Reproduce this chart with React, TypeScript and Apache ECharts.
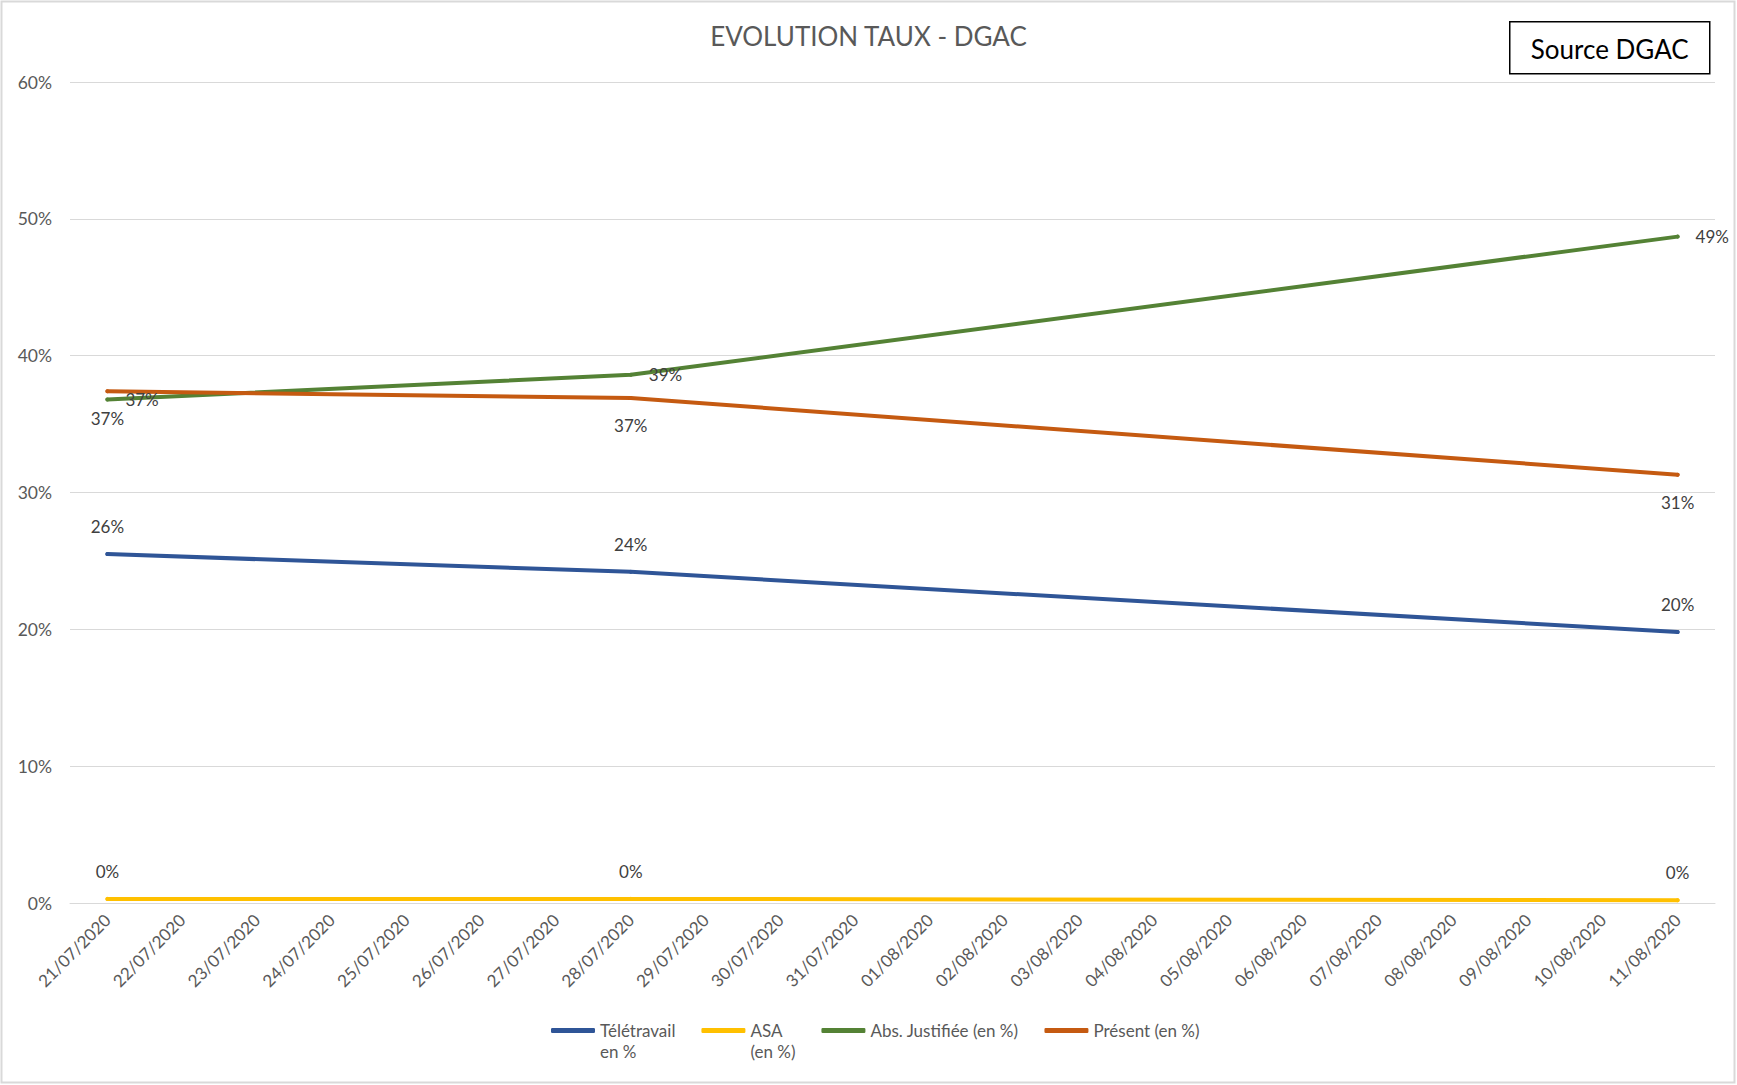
import React, { useEffect, useRef } from "react";
import * as echarts from "echarts";

const categories = [
  "21/07/2020", "22/07/2020", "23/07/2020", "24/07/2020", "25/07/2020", "26/07/2020",
  "27/07/2020", "28/07/2020", "29/07/2020", "30/07/2020", "31/07/2020", "01/08/2020",
  "02/08/2020", "03/08/2020", "04/08/2020", "05/08/2020", "06/08/2020", "07/08/2020",
  "08/08/2020", "09/08/2020", "10/08/2020", "11/08/2020",
];
const measureDates = ["21/07/2020", "28/07/2020", "11/08/2020"];
const teletravail = [25.5, 24.2, 19.8];
const asa = [0.3, 0.3, 0.2];
const absJustifiee = [36.8, 38.6, 48.7];
const present = [37.4, 36.9, 31.3];
const seriesNames = ["Télétravail en %", "ASA (en %)", "Abs. Justifiée (en %)", "Présent (en %)"];
const legendLabels = [" \nTélétravail\nen %", " \nASA\n(en %)", " \nAbs. Justifiée (en %)\n ", " \nPrésent (en %)\n "];
const colors = ["#2F5597", "#FFC000", "#548235", "#C55A11"];
const yTicks = { min: 0, max: 60, interval: 10 };

const FONT = "Lato, 'Open Sans', sans-serif";

export default function App() {
  const ref = useRef<HTMLDivElement>(null);
  useEffect(() => {
    if (!ref.current) return;
    const chart = echarts.init(ref.current, undefined, { renderer: "svg" });
    const values = [teletravail, asa, absJustifiee, present];
    const labelPos: any[] = [
      { position: "top", distance: 17 },
      { position: "top", distance: 17 },
      { position: "right", distance: 16 },
      { position: "bottom", distance: 17 },
    ];
    const series = values.map((vals, i) => ({
      name: seriesNames[i],
      type: "line",
      data: measureDates.map((d, j) => [d, vals[j]]),
      symbol: "circle",
      symbolSize: 4,
      showSymbol: true,
      itemStyle: { color: colors[i] },
      lineStyle: { color: colors[i], width: 4, cap: "round", join: "round" },
      label: {
        show: true,
        ...labelPos[i],
        formatter: (p: any) => Math.round(p.value[1]) + "%",
        color: "#404040",
        fontSize: 17,
        fontFamily: FONT,
      },
      emphasis: { disabled: true },
    }));
    chart.setOption({
      animation: false,
      backgroundColor: "#ffffff",
      textStyle: { fontFamily: FONT },
      title: {
        text: "EVOLUTION TAUX - DGAC",
        left: "center",
        top: 23,
        padding: 0,
        textStyle: { color: "#595959", fontSize: 26, fontWeight: "normal", fontFamily: FONT },
      },
      legend: {
        left: 551,
        top: 999,
        padding: 0,
        itemWidth: 44,
        itemHeight: 5,
        itemGap: 26,
        icon: "roundRect",
        data: seriesNames,
        formatter: (name: string) => legendLabels[seriesNames.indexOf(name)],
        textStyle: {
          color: "#595959",
          fontSize: 17,
          fontFamily: FONT,
          lineHeight: 21,
        },
      },
      grid: { left: 70, right: 22, top: 82, bottom: 182, containLabel: false },
      xAxis: {
        type: "category",
        data: categories,
        boundaryGap: true,
        axisLine: { show: true, lineStyle: { color: "#d9d9d9", width: 1 } },
        axisTick: { show: false },
        axisLabel: {
          rotate: 45,
          interval: 0,
          margin: 14,
          color: "#595959",
          fontSize: 17,
          fontFamily: FONT,
        },
      },
      yAxis: {
        type: "value",
        min: yTicks.min,
        max: yTicks.max,
        interval: yTicks.interval,
        axisLine: { show: false },
        axisTick: { show: false },
        splitLine: { lineStyle: { color: "#d9d9d9", width: 1 } },
        axisLabel: {
          formatter: "{value}%",
          margin: 18,
          color: "#595959",
          fontSize: 17.5,
          fontFamily: FONT,
        },
      },
      graphic: [
        {
          type: "rect",
          shape: { x: 1.5, y: 1.5, width: 1733, height: 1081 },
          style: { fill: "none", stroke: "#d9d9d9", lineWidth: 2 },
          silent: true,
          z: -1,
        },
        {
          type: "group",
          left: 1509,
          top: 21,
          children: [
            {
              type: "rect",
              shape: { x: 0, y: 0, width: 200, height: 52 },
              style: { fill: "#ffffff", stroke: "#000000", lineWidth: 1.5 },
            },
            {
              type: "text",
              x: 100,
              y: 27,
              style: {
                text: "Source DGAC",
                fill: "#000000",
                font: `26px ${FONT}`,
                align: "center",
                verticalAlign: "middle",
              },
            },
          ],
        },
      ],
      series,
    });
    return () => chart.dispose();
  }, []);
  return (
    <div
      ref={ref}
      style={{ position: "absolute", left: 0, top: 0, width: 1737, height: 1085 }}
    />
  );
}
